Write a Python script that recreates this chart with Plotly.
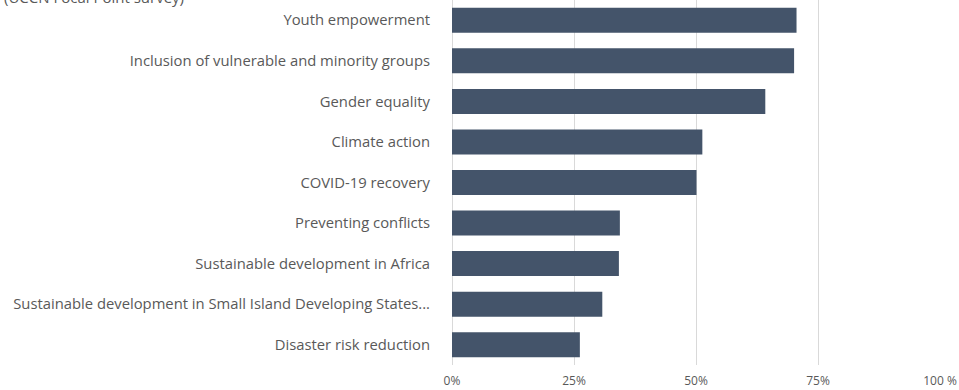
import plotly.graph_objects as go

# Survey results: share of respondents selecting each priority theme
themes = [
    "Youth empowerment",
    "Inclusion of vulnerable and minority groups",
    "Gender equality",
    "Climate action",
    "COVID-19 recovery",
    "Preventing conflicts",
    "Sustainable development in Africa",
    "Sustainable development in Small Island Developing States...",
    "Disaster risk reduction",
]
shares = [0.706, 0.701, 0.642, 0.513, 0.501, 0.344, 0.342, 0.308, 0.262]

tick_values = [0, 0.25, 0.5, 0.75, 1.0]
tick_labels = ["0%", "25%", "50%", "75%", "100 %"]

subtitle = "(UCCN Focal Point survey)"

text_color = "#595959"
font_family = "Open Sans, Segoe UI, sans-serif"

fig = go.Figure(
    go.Bar(
        x=shares,
        y=themes,
        orientation="h",
        width=0.616,
        marker=dict(color="#44546a", line=dict(width=0)),
        hoverinfo="x+y",
    )
)

fig.update_layout(
    width=959,
    height=390,
    margin=dict(l=452, r=19, t=0, b=25),
    paper_bgcolor="white",
    plot_bgcolor="white",
    showlegend=False,
    font=dict(family=font_family, color=text_color, size=14),
    bargap=0.384,
)

fig.update_xaxes(
    range=[0, 1.0],
    tickvals=tick_values,
    ticktext=tick_labels,
    showgrid=True,
    gridcolor="#d9d9d9",
    gridwidth=1,
    zeroline=True,
    zerolinecolor="#d9d9d9",
    zerolinewidth=1,
    showline=False,
    ticks="",
    ticklabelstandoff=7,
    automargin=False,
    tickfont=dict(size=12, color=text_color),
)

fig.update_yaxes(
    categoryorder="array",
    categoryarray=themes,
    autorange="reversed",
    showgrid=False,
    zeroline=False,
    showline=False,
    ticks="",
    ticklabelstandoff=21,
    tickfont=dict(size=14.8, color=text_color),
)

# Subtitle sitting above the plot, running past the top edge
fig.add_annotation(
    text=subtitle,
    xref="paper",
    yref="paper",
    x=-450 / 488,
    y=1,
    xanchor="left",
    yanchor="middle",
    yshift=3,
    showarrow=False,
    font=dict(size=15, color=text_color, family=font_family),
)

fig.write_html("out.html")
